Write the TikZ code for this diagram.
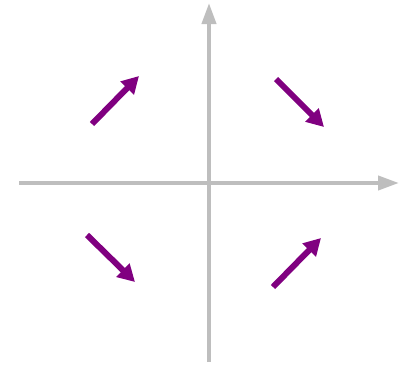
\documentclass[tikz,border=0pt]{standalone}
\usetikzlibrary{arrows.meta}
\definecolor{axisgray}{RGB}{190,190,190}
\definecolor{arrpurple}{RGB}{128,0,128}
\tikzset{
  axisline/.style={draw=axisgray, line width=4pt, -{Triangle[length=21pt,width=14pt]}},
  vecarrow/.style={draw=arrpurple, line width=6pt, -{Triangle[length=17pt,width=18pt]}}
}
\begin{document}
\begin{tikzpicture}[x=1pt,y=-1pt]
\useasboundingbox (0,0) rectangle (407,367);
\coordinate (xl) at (19,183);
\coordinate (xr) at (399,183);
\coordinate (yb) at (209,362);
\coordinate (yt) at (209,3);
\draw[axisline] (xl) -- (xr);
\draw[axisline] (yb) -- (yt);
\coordinate (a1) at (92,124); \coordinate (b1) at (139,76);
\coordinate (a2) at (276,79);  \coordinate (b2) at (324,127);
\coordinate (a3) at (87,235);  \coordinate (b3) at (135,282);
\coordinate (a4) at (273,287); \coordinate (b4) at (321,238);
\draw[vecarrow] (a1) -- (b1);
\draw[vecarrow] (a2) -- (b2);
\draw[vecarrow] (a3) -- (b3);
\draw[vecarrow] (a4) -- (b4);
\end{tikzpicture}
\end{document}
